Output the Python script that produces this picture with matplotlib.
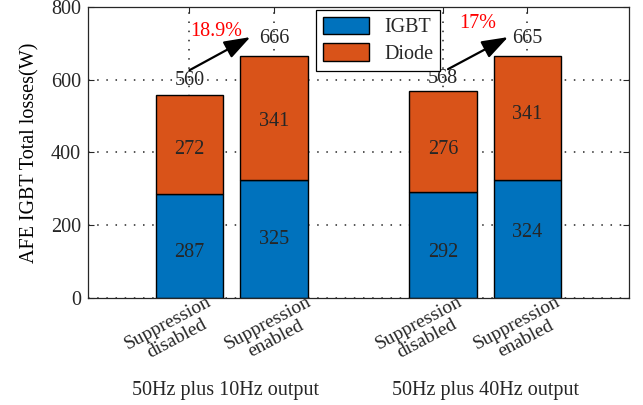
import matplotlib.pyplot as plt

plt.rcParams['font.family'] = ['Liberation Serif', 'DejaVu Serif']
plt.rcParams['text.color'] = '#262626'

# two operating points, each with suppression off / on
positions = [1, 2, 4, 5]
cases = ['Suppression\ndisabled', 'Suppression\nenabled',
         'Suppression\ndisabled', 'Suppression\nenabled']
groups = ['50Hz plus 10Hz output', '50Hz plus 40Hz output']
group_x = [1.43, 4.5]

igbt_loss = [287, 325, 292, 324]
diode_loss = [272, 341, 276, 341]
total_loss = [560, 666, 568, 665]
increase = ['18.9%', '17%']

# where the numbers sit inside / above the bars
igbt_label_y = [124, 162, 124, 181]
diode_label_y = [409, 486, 409, 505]
total_label_y = [597, 714, 602, 713]
case_dx = [-17, -2, -20, -6]  # pixels

blue = '#0072BD'
orange = '#D95319'
fs = 14.5

fig = plt.figure(figsize=(6.43, 4.05), dpi=100)
ax = fig.add_axes([0.137, 0.264, 0.841, 0.719])

ax.bar(positions, igbt_loss, width=0.8, color=blue, edgecolor='k', linewidth=1, label='IGBT', zorder=2)
ax.bar(positions, diode_loss, width=0.8, bottom=igbt_loss, color=orange, edgecolor='k',
       linewidth=1, label='Diode', zorder=2)

for x, v, y in zip(positions, igbt_loss, igbt_label_y):
    ax.text(x, y, str(v), ha='center', va='center', fontsize=fs, zorder=3)
for x, v, y in zip(positions, diode_loss, diode_label_y):
    ax.text(x, y, str(v), ha='center', va='center', fontsize=fs, zorder=3)
for x, v, y in zip(positions, total_loss, total_label_y):
    ax.text(x, y, str(v), ha='center', va='center', fontsize=fs, zorder=3)

# increase arrows between the paired bars
arrows = [((1.0, 626), (1.72, 717)), ((4.06, 629), (4.77, 717))]
for start, tip in arrows:
    ax.annotate('', xy=tip, xytext=start,
                arrowprops=dict(arrowstyle='-|>,head_length=1.0,head_width=0.35',
                                mutation_scale=16, color='k', lw=1.6,
                                shrinkA=0, shrinkB=0), zorder=4)
ax.text(1.32, 733, increase[0], color='red', ha='center', va='center', fontsize=fs)
ax.text(4.41, 754, increase[1], color='red', ha='center', va='center', fontsize=fs)

ax.set_xlim(-0.2, 6.2)
ax.set_ylim(0, 800)
ax.set_xticks(positions)
ax.set_xticklabels([])
ax.set_yticks([0, 200, 400, 600, 800])
ax.tick_params(direction='in', top=True, right=True, length=4, width=0.8,
               colors='#262626', labelsize=fs, pad=5)
for s in ax.spines.values():
    s.set_color('#262626')
    s.set_linewidth(0.9)

ax.set_axisbelow(True)
ax.grid(True, linestyle=(0, (1, 5)), color='#262626', linewidth=1.1)

# category labels under each bar
for x, txt, dx in zip(positions, cases, case_dx):
    ax.annotate(txt, xy=(x, 0), xycoords=('data', 'axes fraction'),
                xytext=(dx, -33), textcoords='offset pixels',
                ha='center', va='center', rotation=28, rotation_mode='anchor',
                multialignment='center', fontsize=14, linespacing=1.1)

for x, txt in zip(group_x, groups):
    ax.text(x, -0.316, txt, transform=ax.get_xaxis_transform(),
            ha='center', va='center', fontsize=fs)

ax.set_ylabel('AFE IGBT Total losses(W)', fontsize=fs)
ax.yaxis.set_label_coords(-0.09, 0.5)

leg = ax.legend(loc='upper left', bbox_to_anchor=(0.421, 0.99), borderaxespad=0,
                fontsize=fs, handlelength=2.3, handleheight=0.95, handletextpad=0.75,
                labelspacing=0.3, borderpad=0.35, fancybox=False, framealpha=1)
leg.get_frame().set_edgecolor('k')
leg.get_frame().set_linewidth(0.9)

fig.savefig('out.png', dpi=100)
